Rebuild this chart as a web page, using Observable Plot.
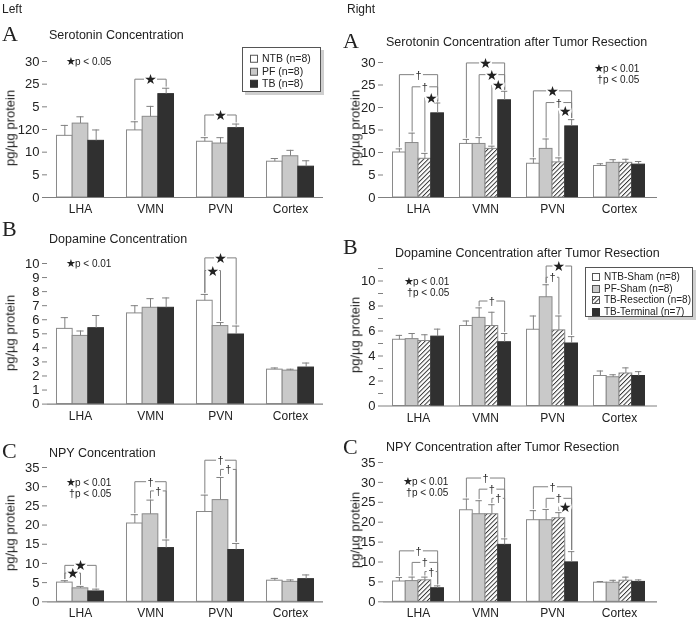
<!DOCTYPE html>
<html><head><meta charset="utf-8">
<script src="https://cdn.jsdelivr.net/npm/d3@7"></script>
<script src="https://cdn.jsdelivr.net/npm/@observablehq/plot@0.6"></script>
<style>
body{margin:0;background:#fff;font-family:Helvetica,"Liberation Sans",Arial,sans-serif;color:#222}
#root{position:relative;width:699px;height:620px;overflow:hidden;background:#fff}
.abs{position:absolute;white-space:nowrap;line-height:1;will-change:transform}
.letter{font-family:"Liberation Serif","Times New Roman",serif;font-size:22px;transform:translateY(-50%)}
.title{font-size:12.5px;transform:translateY(-50%)}
.side{font-size:12px;transform:translateY(-50%)}
.ylab{font-size:13px;transform:translate(-50%,-50%) rotate(-90deg)}
.note{font-size:10px;transform:translateY(-50%)}
.note .s{display:inline-block;width:9px;font-size:10.5px}
.legend{position:absolute;border:1px solid #555;background:#fff;box-shadow:3px 3px 0 #cfcfcf;box-sizing:border-box}
.legend .it{position:absolute;white-space:nowrap;line-height:1;transform:translateY(-50%)}
svg.plot{position:absolute;overflow:visible;will-change:transform}
</style></head>
<body><div id="root">
<svg width="0" height="0" style="position:absolute">
  <defs>
    <pattern id="hatch" patternUnits="userSpaceOnUse" width="3.2" height="3.2" patternTransform="rotate(45)">
      <rect width="3.2" height="3.2" fill="#fff"/>
      <line x1="0.5" y1="0" x2="0.5" y2="3.2" stroke="#222" stroke-width="0.9"/>
    </pattern>
  </defs>
</svg>
</div>
<script>
// ---------- data ----------
const regions = ["LHA", "VMN", "PVN", "Cortex"];
const leftGroups = ["NTB (n=8)", "PF (n=8)", "TB (n=8)"];
const rightGroups = ["NTB-Sham (n=8)", "PF-Sham (n=8)", "TB-Resection (n=8)", "TB-Terminal (n=7)"];

// Left A: Serotonin
const serotoninMean = [[13.6, 16.3, 12.5], [14.8, 17.8, 22.8], [12.3, 11.9, 15.3], [7.9, 9.1, 6.8]];
const serotoninErr  = [[2.3, 1.5, 2.4], [1.9, 2.3, 1.3], [0.9, 1.3, 0.9], [0.7, 1.3, 1.3]];
const serotoninTicks = [0, 5, 10, 15, 20, 25, 30];
const serotoninTickLabels = ["0", "5", "10", "120", "5", "25", "30"];
const serotoninSig = [["VMN", 0, 2, 26.1, "★"], ["PVN", 0, 2, 18.2, "★"]];

// Left B: Dopamine
const dopamineMean = [[5.35, 4.85, 5.4], [6.45, 6.85, 6.85], [7.35, 5.55, 4.95], [2.45, 2.38, 2.6]];
const dopamineErr  = [[0.8, 0.35, 0.9], [0.55, 0.65, 0.7], [0.45, 0.25, 0.6], [0.12, 0.1, 0.32]];
const dopamineTicks = [0, 1, 2, 3, 4, 5, 6, 7, 8, 9, 10];
const dopamineTickLabels = ["0", "1", "2", "3", "4", "5", "6", "7", "8", "9", "10"];
const dopamineSig = [["PVN", 0, 2, 10.4, "★"], ["PVN", 0, 1, 9.5, "★"]];

// Left C: NPY
const npyMean = [[5.0, 3.5, 2.7], [20.4, 22.8, 14.0], [23.4, 26.5, 13.5], [5.5, 5.2, 5.9]];
const npyErr  = [[0.5, 0.5, 0.6], [2.3, 3.7, 2.1], [4.4, 5.9, 1.7], [0.6, 0.5, 1.1]];
const npyTicks = [0, 5, 10, 15, 20, 25, 30, 35];
const npyTickLabels = ["0", "5", "10", "15", "20", "25", "30", "35"];
const npySig = [["LHA", 0, 2, 9.5, "★"], ["LHA", 0, 1, 7.5, "★"],
                ["VMN", 0, 2, 31.3, "†"], ["VMN", 1, 2, 28.9, "†"],
                ["PVN", 0, 2, 36.9, "†"], ["PVN", 1, 2, 34.5, "†"]];

// Right A: Serotonin after tumor resection
const serotoninResMean = [[10.0, 12.1, 8.6, 18.7], [11.9, 11.9, 10.8, 21.6], [7.5, 10.8, 7.8, 15.8], [7.0, 7.7, 7.7, 7.3]];
const serotoninResErr  = [[0.8, 2.2, 1.2, 2.3], [1.0, 1.4, 0.6, 2.0], [1.1, 2.2, 1.0, 1.5], [0.5, 0.7, 0.8, 0.7]];
const serotoninResTicks = [0, 5, 10, 15, 20, 25, 30];
const serotoninResTickLabels = ["0", "5", "10", "15", "20", "25", "30"];
const serotoninResSig = [["LHA", 0, 3, 27.3, "†"], ["LHA", 1, 3, 24.6, "†"], ["LHA", 2, 3, 22.2, "★"],
                         ["VMN", 0, 3, 29.9, "★"], ["VMN", 1, 3, 27.3, "★"], ["VMN", 2, 3, 25.0, "★"],
                         ["PVN", 0, 3, 23.7, "★"], ["PVN", 1, 3, 21.1, "†"], ["PVN", 2, 3, 19.3, "★"]];

// Right B: Dopamine after tumor resection
const dopamineResMean = [[5.3, 5.35, 5.2, 5.55], [6.4, 7.05, 6.4, 5.1], [6.1, 8.7, 6.05, 5.0], [2.4, 2.3, 2.6, 2.4]];
const dopamineResErr  = [[0.35, 0.45, 0.5, 0.6], [0.4, 0.8, 1.1, 0.7], [1.1, 1.0, 1.15, 0.55], [0.4, 0.2, 0.45, 0.35]];
const dopamineResTicks = [0, 1, 2, 3, 4, 5, 6, 7, 8, 9, 10, 11];
const dopamineResTickLabels = ["0", "", "2", "", "4", "", "6", "", "8", "", "10", ""];
const dopamineResSig = [["VMN", 1, 3, 8.4, "†"], ["PVN", 1, 3, 11.2, "★"], ["PVN", 1, 2, 10.3, "†"]];

// Right C: NPY after tumor resection
const npyResMean = [[5.1, 5.2, 5.4, 3.4], [23.0, 22.0, 22.0, 14.3], [20.5, 20.5, 21.0, 9.9], [4.8, 4.8, 5.3, 5.0]];
const npyResErr  = [[1.0, 1.0, 0.8, 0.6], [2.8, 3.4, 2.4, 1.5], [2.4, 2.7, 1.4, 2.7], [0.3, 0.6, 0.9, 0.5]];
const npyResTicks = [0, 5, 10, 15, 20, 25, 30, 35];
const npyResTickLabels = ["0", "5", "10", "15", "20", "25", "30", "35"];
const npyResSig = [["LHA", 0, 3, 12.8, "†"], ["LHA", 1, 3, 9.9, "†"], ["LHA", 2, 3, 7.6, "†"],
                   ["VMN", 0, 3, 31.1, "†"], ["VMN", 1, 3, 28.3, "†"], ["VMN", 2, 3, 26.0, "†"],
                   ["PVN", 0, 3, 28.9, "†"], ["PVN", 1, 3, 26.0, "†"], ["PVN", 2, 3, 23.9, "★"]];

// ---------- styles ----------
const FONT = 'Helvetica, "Liberation Sans", Arial, sans-serif';
const leftFills = ["#ffffff", "#c9c9c9", "#303030"];
const leftStrokes = ["#8a8a8a", "#8a8a8a", "#303030"];
const rightFills = ["#ffffff", "#c9c9c9", "url(#hatch)", "#303030"];
const rightStrokes = ["#8a8a8a", "#8a8a8a", "#8a8a8a", "#303030"];
const GRAY = "#808080";

const root = document.getElementById("root");

function drawPanel(means, errs, sig, ticks, tickLabels, fills, strokes, geo) {
  const n = fills.length;
  const yMax = ticks[ticks.length - 1];
  const bw = geo.barPx / geo.step;
  const cap = geo.capPx / geo.step;
  const pxPerUnit = (geo.yZero - geo.yTop) / yMax;
  const gap = 2 / pxPerUnit;
  const rows = [];
  means.forEach((arr, g) => arr.forEach((v, s) => {
    rows.push({g, s, v, t: v + errs[g][s], xc: g + (s - (n - 1) / 2) * bw});
  }));
  const find = (g, s) => rows.find(d => d.g === g && d.s === s);
  const pts = [], labels = [];
  sig.forEach(([reg, a, b, level, sym], id) => {
    const g = regions.indexOf(reg);
    const A = find(g, a), B = find(g, b);
    pts.push({id, x: A.xc, y: A.t + gap}, {id, x: A.xc, y: level}, {id, x: B.xc, y: level}, {id, x: B.xc, y: B.t + gap});
    labels.push({x: (A.xc + B.xc) / 2, y: level, sym});
  });
  const stars = labels.filter(d => d.sym === "★");
  const daggers = labels.filter(d => d.sym !== "★");
  const labelMap = new Map(ticks.map((t, i) => [t, tickLabels[i]]));
  const mTop = 28, mBottom = 28;
  const marks = [];
  for (let s = 0; s < n; s++) {
    marks.push(Plot.rect(rows.filter(d => d.s === s), {
      x1: d => d.xc - bw / 2, x2: d => d.xc + bw / 2, y1: 0, y2: "v",
      fill: fills[s], stroke: strokes[s], strokeWidth: 1
    }));
  }
  marks.push(
    Plot.ruleX(rows, {x: "xc", y1: "v", y2: "t", stroke: GRAY, strokeWidth: 1}),
    Plot.ruleY(rows, {y: "t", x1: d => d.xc - cap, x2: d => d.xc + cap, stroke: GRAY, strokeWidth: 1}),
    Plot.ruleY([0], {stroke: GRAY, strokeWidth: 1.2}),
    Plot.line(pts, {x: "x", y: "y", z: "id", stroke: GRAY, strokeWidth: 1}),
    Plot.dot(stars, {x: "x", y: "y", r: 6.5, fill: "white", stroke: null}),
    Plot.dot(daggers, {x: "x", y: "y", r: 4.5, fill: "white", stroke: null}),
    Plot.text(stars, {x: "x", y: "y", text: "sym", fontSize: 14, fill: "#222", fontFamily: "DejaVu Sans", dy: 0.5}),
    Plot.text(daggers, {x: "x", y: "y", text: "sym", fontSize: 11, fill: "#333", dy: 0.5}),
    Plot.axisY({ticks, tickFormat: d => labelMap.get(d), tickSize: 5, tickPadding: 3, label: null, stroke: GRAY, fill: "#222", fontSize: 13}),
    Plot.axisX({ticks: [0, 1, 2, 3], tickFormat: i => regions[i], tickSize: 0, tickPadding: 7, label: null, fill: "#222", fontSize: 12})
  );
  const svg = Plot.plot({
    width: geo.width,
    height: Math.round(geo.yZero - geo.yTop) + mTop + mBottom,
    marginLeft: geo.axis0 - geo.left,
    marginRight: geo.left + geo.width - geo.axis1,
    marginTop: mTop,
    marginBottom: mBottom,
    x: {domain: [(geo.axis0 - geo.first) / geo.step, (geo.axis1 - geo.first) / geo.step]},
    y: {domain: [0, yMax], range: [mTop + (geo.yZero - geo.yTop), mTop]},
    style: {fontFamily: FONT, fontSize: "12px", color: "#222", background: "transparent", overflow: "visible"},
    marks
  });
  svg.classList.add("plot");
  svg.style.left = geo.left + "px";
  svg.style.top = (geo.yTop - mTop) + "px";
  root.appendChild(svg);
}

const L = {left: 0, width: 340, axis0: 47, axis1: 323, first: 80, step: 70, barPx: 15.67, capPx: 3.6};
const R = {left: 340, width: 359, axis0: 383, axis1: 657, first: 418, step: 67, barPx: 12.75, capPx: 3.2};

drawPanel(serotoninMean, serotoninErr, serotoninSig, serotoninTicks, serotoninTickLabels, leftFills, leftStrokes, {...L, yTop: 61, yZero: 197});
drawPanel(dopamineMean, dopamineErr, dopamineSig, dopamineTicks, dopamineTickLabels, leftFills, leftStrokes, {...L, yTop: 262.7, yZero: 403.3});
drawPanel(npyMean, npyErr, npySig, npyTicks, npyTickLabels, leftFills, leftStrokes, {...L, yTop: 466.7, yZero: 601});
drawPanel(serotoninResMean, serotoninResErr, serotoninResSig, serotoninResTicks, serotoninResTickLabels, rightFills, rightStrokes, {...R, yTop: 61.7, yZero: 196.7});
drawPanel(dopamineResMean, dopamineResErr, dopamineResSig, dopamineResTicks, dopamineResTickLabels, rightFills, rightStrokes, {...R, yTop: 267.5, yZero: 405});
drawPanel(npyResMean, npyResErr, npyResSig, npyResTicks, npyResTickLabels, rightFills, rightStrokes, {...R, yTop: 461.7, yZero: 601});

// ---------- text overlays ----------
function addText(cls, x, y, html) {
  const d = document.createElement("div");
  d.className = "abs " + cls;
  d.style.left = x + "px"; d.style.top = y + "px";
  d.innerHTML = html;
  root.appendChild(d);
  return d;
}
addText("side", 2, 9, "Left");
addText("side", 347, 9, "Right");
addText("letter", 2, 34, "A");
addText("letter", 2, 229, "B");
addText("letter", 2, 451, "C");
addText("letter", 343, 41, "A");
addText("letter", 343, 247, "B");
addText("letter", 343, 447, "C");
addText("title", 49, 35, "Serotonin Concentration");
addText("title", 49, 239, "Dopamine Concentration");
addText("title", 49, 453, "NPY Concentration");
addText("title", 386, 42, "Serotonin Concentration after Tumor Resection");
addText("title", 395, 253, "Dopamine Concentration after Tumor Resection");
addText("title", 386, 447, "NPY Concentration after Tumor Resection");
for (const [x, y] of [[10, 128], [10, 333], [10, 533], [355, 128], [355, 335], [355, 530]]) {
  addText("ylab", x, y, "pg/µg protein");
}
const star = '<span class="s">★</span>', dag = '<span class="s">&nbsp;†</span>';
addText("note", 66, 61, star + "p &lt; 0.05");
addText("note", 66, 263, star + "p &lt; 0.01");
addText("note", 66, 482, star + "p &lt; 0.01");
addText("note", 66, 493, dag + "p &lt; 0.05");
addText("note", 594, 68, star + "p &lt; 0.01");
addText("note", 594, 79, dag + "p &lt; 0.05");
addText("note", 404, 281, star + "p &lt; 0.01");
addText("note", 404, 292, dag + "p &lt; 0.05");
addText("note", 403, 481, star + "p &lt; 0.01");
addText("note", 403, 492, dag + "p &lt; 0.05");

function legend(names, fills, strokes, box) {
  const b = document.createElement("div");
  b.className = "legend";
  Object.assign(b.style, {left: box.left + "px", top: box.top + "px", width: box.width + "px", height: box.height + "px"});
  names.forEach((name, i) => {
    const it = document.createElement("div");
    it.className = "it";
    it.style.left = box.sx + "px";
    it.style.top = (box.r0 + i * box.dr) + "px";
    it.style.fontSize = box.fs + "px";
    it.innerHTML = `<svg width="${box.sw}" height="${box.sw}" style="vertical-align:middle;margin-right:${box.gap}px;overflow:visible"><rect x="0.5" y="0.5" width="${box.sw - 1}" height="${box.sw - 1}" fill="${fills[i]}" stroke="${i === fills.length - 1 ? fills[i] : "#555"}"/></svg>${name}`;
    b.appendChild(it);
  });
  root.appendChild(b);
}
legend(leftGroups, leftFills, leftStrokes, {left: 242, top: 47, width: 79, height: 45, sx: 7, r0: 10, dr: 12.5, fs: 10.5, sw: 8, gap: 4});
legend(rightGroups, rightFills, rightStrokes, {left: 585, top: 267, width: 108, height: 50, sx: 6, r0: 9, dr: 11.5, fs: 10, sw: 8, gap: 4});
</script>
</body></html>
